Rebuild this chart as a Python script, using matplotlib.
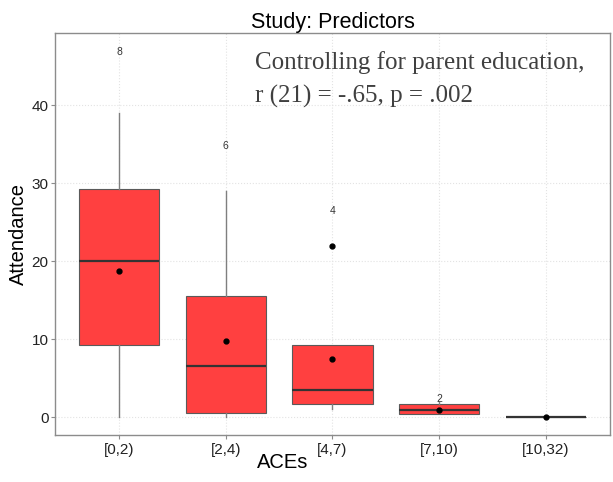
import matplotlib.pyplot as plt

# attendance by ACE group
groups = ["[0,2)", "[2,4)", "[4,7)", "[7,10)", "[10,32)"]
q1 = [9.2, 0.5, 1.7, 0.42, 0.0]
med = [20.0, 6.5, 3.5, 0.94, 0.0]
q3 = [29.3, 15.5, 9.24, 1.67, 0.0]
whis_lo = [0.0, 0.0, 1.1, 0.42, 0.0]
whis_hi = [39.0, 29.0, 9.24, 1.9, 0.0]
means = [18.8, 9.8, 7.45, 0.94, 0.0]
outliers = [[], [], [22.0], [], []]
counts = [8, 6, 4, 2, None]

note_lines = ["Controlling for parent education,", "r (21) = -.65, p = .002"]

plt.rcParams['font.family'] = ['Liberation Sans', 'DejaVu Sans']

fig = plt.figure(figsize=(6.13, 4.82), dpi=100)
ax = fig.add_axes([0.0897, 0.0975, 0.9054, 0.834])

stats = []
for i in range(len(groups)):
    stats.append(dict(q1=q1[i], med=med[i], q3=q3[i], whislo=whis_lo[i],
                      whishi=whis_hi[i], fliers=outliers[i], label=groups[i]))

pos = list(range(1, len(groups) + 1))
ax.bxp(stats, positions=pos, widths=0.75, patch_artist=True, showcaps=False,
       boxprops=dict(facecolor='#ff4040', edgecolor='#5a5a5a', linewidth=0.8),
       whiskerprops=dict(color='#7f7f7f', linewidth=1.0),
       medianprops=dict(color='#333333', linewidth=1.6),
       flierprops=dict(marker='o', markerfacecolor='black', markeredgecolor='black',
                       markersize=3.5), zorder=2)

ax.plot(pos, means, 'o', color='black', markersize=3.5, zorder=4)

# group sizes above each box
for p, n, hi in zip(pos, counts, whis_hi):
    if n is None:
        continue
    top = max([hi] + outliers[p - 1])
    ax.text(p, top * 1.2, str(n), ha='center', va='center', fontsize=7.5, color='#333333')

serif = ['Liberation Serif', 'DejaVu Serif']
ax.text(0.36, 0.9104, note_lines[0], transform=ax.transAxes, ha='left', va='baseline',
        fontsize=18, family=serif, color='#404040')
ax.text(0.36, 0.828, note_lines[1], transform=ax.transAxes, ha='left', va='baseline',
        fontsize=18, family=serif, color='#404040')

ax.set_xlim(0.4, 5.6)
ax.set_ylim(-2.3, 49.3)
ax.set_yticks([0, 10, 20, 30, 40])
ax.set_xticks(pos)
ax.set_xticklabels(groups)
ax.grid(True, color='#e3e3e3', linestyle=':', linewidth=0.8, zorder=0)
ax.set_axisbelow(True)
for s in ax.spines.values():
    s.set_color('#8c8c8c')
    s.set_linewidth(1.0)
ax.tick_params(colors='#8c8c8c', labelcolor='#222222', labelsize=11, length=3, width=0.8)
ax.tick_params(axis='x', pad=3)
ax.tick_params(axis='y', pad=1.5)

ax.set_title("Study: Predictors", fontsize=15.5, color='black', pad=3)
ax.set_ylabel("Attendance", fontsize=14.5, labelpad=3)
fig.text(283 / 613, 1 - 463 / 482, "ACEs", ha='center', va='center', fontsize=14.5)

fig.savefig("out.png", dpi=100)
